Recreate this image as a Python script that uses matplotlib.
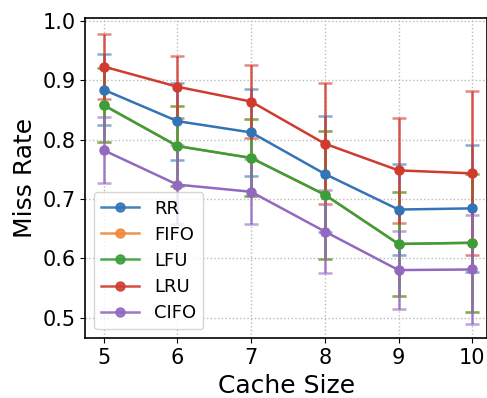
import matplotlib
matplotlib.use("Agg")
import matplotlib.pyplot as plt
from matplotlib.lines import Line2D
import numpy as np

cache_sizes = [5, 6, 7, 8, 9, 10]
policies = ["RR", "FIFO", "LFU", "LRU", "CIFO"]

rr_mean = [0.884, 0.831, 0.812, 0.742, 0.682, 0.684]
rr_err = [0.060, 0.065, 0.073, 0.097, 0.077, 0.107]
fifo_mean = [0.858, 0.789, 0.769, 0.707, 0.624, 0.626]
fifo_err = [0.062, 0.067, 0.065, 0.108, 0.088, 0.116]
lfu_mean = [0.858, 0.789, 0.769, 0.707, 0.624, 0.626]
lfu_err = [0.062, 0.067, 0.065, 0.108, 0.088, 0.116]
lru_mean = [0.923, 0.889, 0.864, 0.793, 0.748, 0.743]
lru_err = [0.055, 0.052, 0.062, 0.102, 0.088, 0.138]
cifo_mean = [0.782, 0.724, 0.712, 0.645, 0.580, 0.581]
cifo_err = [0.056, 0.066, 0.055, 0.070, 0.066, 0.092]

means = [rr_mean, fifo_mean, lfu_mean, lru_mean, cifo_mean]
errs = [rr_err, fifo_err, lfu_err, lru_err, cifo_err]
colors = ["#3274b5", "#f0883a", "#3a9e3a", "#d03b30", "#9368bf"]

fig = plt.figure(figsize=(4.87, 3.98), dpi=100)
ax = fig.add_axes([0.175, 0.15, 0.825, 0.805])

handles = []
for name, m, e, c in zip(policies, means, errs, colors):
    line = ax.errorbar(cache_sizes, m, yerr=e, color=c, marker="o", markersize=6.5,
                       linewidth=1.8, elinewidth=1.8, capsize=5, capthick=1.8,
                       label=name)
    for bar in line[2]:
        bar.set_alpha(0.85)
    for cap in line[1]:
        cap.set_alpha(0.6)
    handles.append(Line2D([], [], color=c, marker="o", markersize=6.5,
                          linewidth=1.8, alpha=0.9, label=name))

ax.set_xlim(4.75, 10.2)
ax.set_ylim(0.465, 1.005)
ax.set_xticks(cache_sizes)
ax.set_yticks([0.5, 0.6, 0.7, 0.8, 0.9, 1.0])
ax.tick_params(labelsize=15)
ax.set_xlabel("Cache Size", fontsize=18)
ax.set_ylabel("Miss Rate", fontsize=18)
ax.grid(True, linestyle=":", color="#bbbbbb", linewidth=1)
for s in ax.spines.values():
    s.set_color("black")
    s.set_linewidth(1.2)

ax.legend(handles=handles, loc="lower left", fontsize=13, handlelength=2.1,
          labelspacing=0.45, borderaxespad=0.5)

fig.savefig("out.png", dpi=100)
